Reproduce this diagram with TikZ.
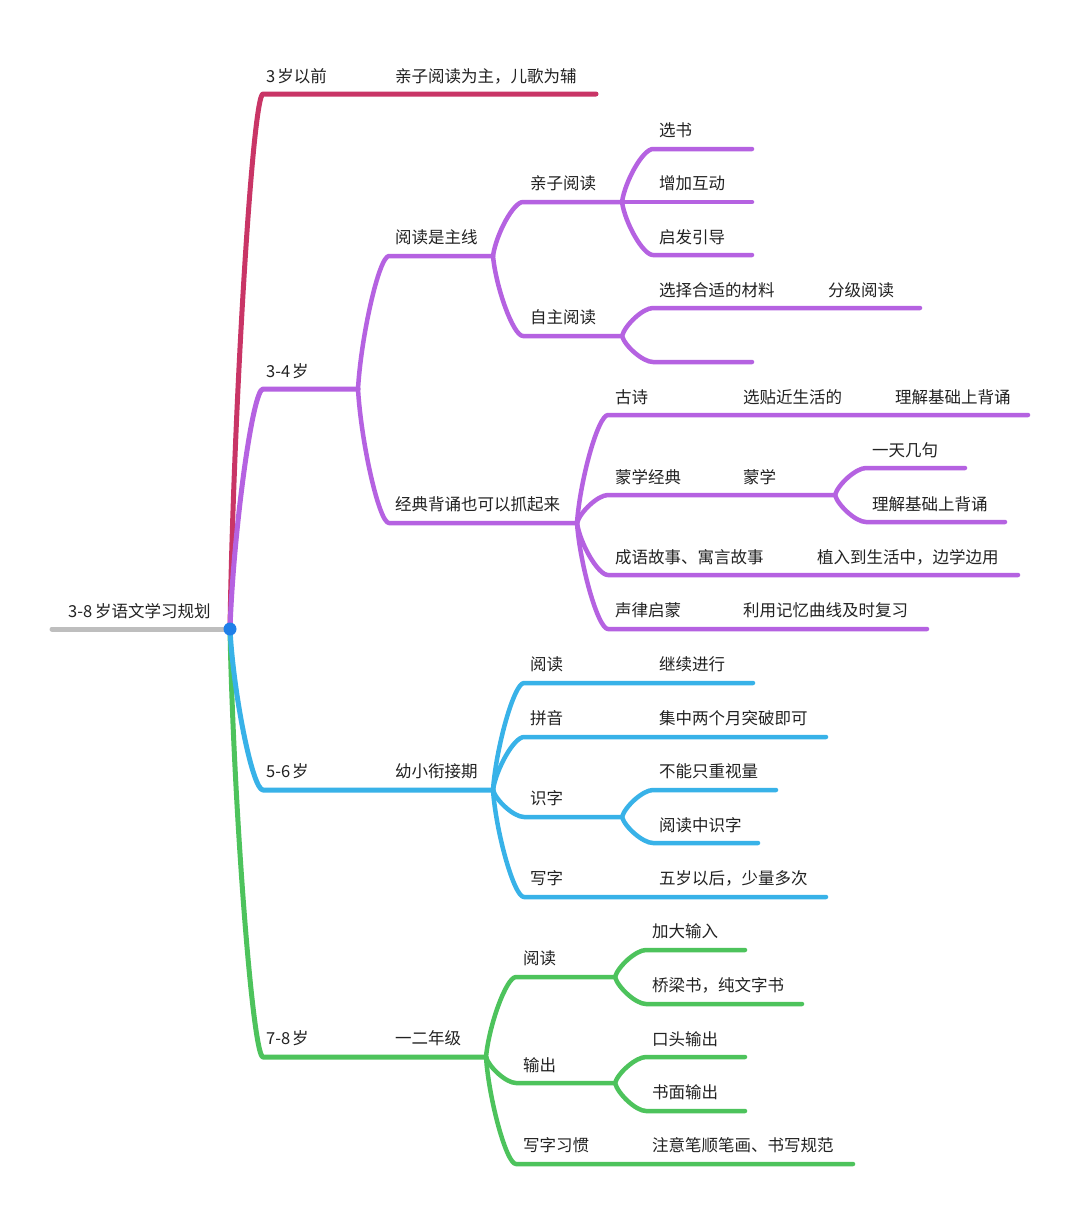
\documentclass[tikz,border=0pt]{standalone}
\usepackage{fontspec}
\setmainfont{Noto Sans CJK SC}
\usetikzlibrary{calc}
\definecolor{cCrim}{HTML}{C93566}
\definecolor{cPur}{HTML}{B562E1}
\definecolor{cBlue}{HTML}{38B2E8}
\definecolor{cGreen}{HTML}{4DC35C}
\definecolor{cGray}{HTML}{BEBEBE}
\definecolor{cDot}{HTML}{1F7FE8}
\definecolor{cText}{HTML}{222222}
\begin{document}
\begin{tikzpicture}[x=1pt,y=-1pt,
  lbl/.style={anchor=base west, inner sep=0pt, font=\fontsize{16.5}{18}\selectfont, text=cText},
  br/.style={line width=4.5pt, line cap=round, line join=round},
  br1/.style={line width=5pt, line cap=round, line join=round},
  curve/.style={to path={let \p1=(\tikztostart),\p2=(\tikztotarget) in
     .. controls ({\x1+0.1*(\x2-\x1)},{\y1+0.4*(\y2-\y1)}) and ({\x1+0.68*(\x2-\x1)},\y2) .. (\p2) \tikztonodes}}]
\useasboundingbox (0,0) rectangle (1079,1216);
\fill[white] (0,0) rectangle (1079,1216);

% ---------- coordinates ----------
\coordinate (rootL) at (52,629);
\coordinate (root) at (230,629);
% A
\coordinate (a0) at (263,94);  \coordinate (aE) at (596,94);
% B
\coordinate (b0) at (263,389); \coordinate (bF) at (358,389);
\coordinate (b10) at (389,256); \coordinate (b1F) at (493,256);
\coordinate (b110) at (523,202); \coordinate (b11F) at (622,202);
\coordinate (b111s) at (653,149); \coordinate (b111e) at (752,149);
\coordinate (b112e) at (752,202);
\coordinate (b113s) at (653,255); \coordinate (b113e) at (752,255);
\coordinate (b120) at (523,336); \coordinate (b12F) at (622,336);
\coordinate (b121s) at (653,308); \coordinate (b121e) at (920,308);
\coordinate (b122s) at (653,362); \coordinate (b122e) at (752,362);
\coordinate (b20) at (389,523); \coordinate (b2F) at (577,523);
\coordinate (b21s) at (608,415); \coordinate (b21e) at (1028,415);
\coordinate (b22s) at (608,495); \coordinate (b22F) at (835,495);
\coordinate (b221s) at (866,468); \coordinate (b221e) at (965,468);
\coordinate (b222s) at (866,522); \coordinate (b222e) at (1005,522);
\coordinate (b23s) at (608,575); \coordinate (b23e) at (1018,575);
\coordinate (b24s) at (608,629); \coordinate (b24e) at (927,629);
% C
\coordinate (c0) at (263,790); \coordinate (cF) at (493,790);
\coordinate (c1s) at (524,683); \coordinate (c1e) at (753,683);
\coordinate (c2s) at (524,737); \coordinate (c2e) at (826,737);
\coordinate (c3s) at (524,817); \coordinate (c3F) at (622,817);
\coordinate (c31s) at (653,790); \coordinate (c31e) at (776,790);
\coordinate (c32s) at (653,843); \coordinate (c32e) at (758,843);
\coordinate (c4s) at (524,897); \coordinate (c4e) at (826,897);
% D
\coordinate (d0) at (263,1057); \coordinate (dF) at (486,1057);
\coordinate (d1s) at (516,977); \coordinate (d1F) at (615,977);
\coordinate (d11s) at (646,950); \coordinate (d11e) at (745,950);
\coordinate (d12s) at (646,1004); \coordinate (d12e) at (802,1004);
\coordinate (d2s) at (516,1083); \coordinate (d2F) at (615,1083);
\coordinate (d21s) at (646,1057); \coordinate (d21e) at (745,1057);
\coordinate (d22s) at (646,1111); \coordinate (d22e) at (745,1111);
\coordinate (d3s) at (516,1164); \coordinate (d3e) at (853,1164);

% ---------- connectors ----------
\draw[br1,cGray] (rootL) -- (root);
% A
\draw[br1,cCrim] (root) to[curve] (a0) -- (aE);
% D
\draw[br1,cGreen] (root) to[curve] (d0) -- (dF);
\draw[br,cGreen] (dF) to[curve] (d1s) -- (d1F);
\draw[br,cGreen] (d1F) to[curve] (d11s) -- (d11e);
\draw[br,cGreen] (d1F) to[curve] (d12s) -- (d12e);
\draw[br,cGreen] (dF) to[curve] (d2s) -- (d2F);
\draw[br,cGreen] (d2F) to[curve] (d21s) -- (d21e);
\draw[br,cGreen] (d2F) to[curve] (d22s) -- (d22e);
\draw[br,cGreen] (dF) to[curve] (d3s) -- (d3e);
% C
\draw[br1,cBlue] (root) to[curve] (c0) -- (cF);
\draw[br,cBlue] (cF) to[curve] (c1s) -- (c1e);
\draw[br,cBlue] (cF) to[curve] (c2s) -- (c2e);
\draw[br,cBlue] (cF) to[curve] (c3s) -- (c3F);
\draw[br,cBlue] (c3F) to[curve] (c31s) -- (c31e);
\draw[br,cBlue] (c3F) to[curve] (c32s) -- (c32e);
\draw[br,cBlue] (cF) to[curve] (c4s) -- (c4e);
% B
\draw[br1,cPur] (root) to[curve] (b0) -- (bF);
\draw[br,cPur] (bF) to[curve] (b10) -- (b1F);
\draw[br,cPur] (b1F) to[curve] (b110) -- (b11F);
\draw[br,cPur] (b11F) to[curve] (b111s) -- (b111e);
\draw[br,cPur] (b11F) -- (b112e);
\draw[br,cPur] (b11F) to[curve] (b113s) -- (b113e);
\draw[br,cPur] (b1F) to[curve] (b120) -- (b12F);
\draw[br,cPur] (b12F) to[curve] (b121s) -- (b121e);
\draw[br,cPur] (b12F) to[curve] (b122s) -- (b122e);
\draw[br,cPur] (bF) to[curve] (b20) -- (b2F);
\draw[br,cPur] (b2F) to[curve] (b21s) -- (b21e);
\draw[br,cPur] (b2F) to[curve] (b22s) -- (b22F);
\draw[br,cPur] (b22F) to[curve] (b221s) -- (b221e);
\draw[br,cPur] (b22F) to[curve] (b222s) -- (b222e);
\draw[br,cPur] (b2F) to[curve] (b23s) -- (b23e);
\draw[br,cPur] (b2F) to[curve] (b24s) -- (b24e);
% root dot
\fill[cDot] (root) circle (6.5pt);

% ---------- labels ----------
\node[lbl] (rootT) at (68,617) {3-8\kern3pt 岁语文学习规划};
\node[lbl] (aT) at (266,82) {3\kern2pt 岁以前};
\node[lbl] (a1T) at (395,82) {亲子阅读为主，儿歌为辅};
\node[lbl] (bT) at (266,377) {3-4\kern2pt 岁};
\node[lbl] (b1T) at (395,243) {阅读是主线};
\node[lbl] (b11T) at (530,189) {亲子阅读};
\node[lbl] (b111T) at (659,136) {选书};
\node[lbl] (b112T) at (659,189) {增加互动};
\node[lbl] (b113T) at (659,243) {启发引导};
\node[lbl] (b12T) at (530,323) {自主阅读};
\node[lbl] (b121T) at (659,296) {选择合适的材料};
\node[lbl] (b1211T) at (828,296) {分级阅读};
\node[lbl] (b2T) at (395,510) {经典背诵也可以抓起来};
\node[lbl] (b21T) at (615,403) {古诗};
\node[lbl] (b211T) at (743,403) {选贴近生活的};
\node[lbl] (b2111T) at (895,403) {理解基础上背诵};
\node[lbl] (b22T) at (615,483) {蒙学经典};
\node[lbl] (b221T) at (743,483) {蒙学};
\node[lbl] (b2211T) at (872,456) {一天几句};
\node[lbl] (b2212T) at (872,510) {理解基础上背诵};
\node[lbl] (b23T) at (615,563) {成语故事、寓言故事};
\node[lbl] (b231T) at (817,563) {植入到生活中，边学边用};
\node[lbl] (b24T) at (615,616) {声律启蒙};
\node[lbl] (b241T) at (743,616) {利用记忆曲线及时复习};
\node[lbl] (cT) at (266,777) {5-6\kern2pt 岁};
\node[lbl] (c0T) at (395,777) {幼小衔接期};
\node[lbl] (c1T) at (530,670) {阅读};
\node[lbl] (c11T) at (659,670) {继续进行};
\node[lbl] (c2T) at (530,724) {拼音};
\node[lbl] (c21T) at (659,724) {集中两个月突破即可};
\node[lbl] (c3T) at (530,804) {识字};
\node[lbl] (c31T) at (659,777) {不能只重视量};
\node[lbl] (c32T) at (659,831) {阅读中识字};
\node[lbl] (c4T) at (530,884) {写字};
\node[lbl] (c41T) at (659,884) {五岁以后，少量多次};
\node[lbl] (dT) at (266,1044) {7-8\kern2pt 岁};
\node[lbl] (d0T) at (395,1044) {一二年级};
\node[lbl] (d1T) at (523,964) {阅读};
\node[lbl] (d11T) at (652,937) {加大输入};
\node[lbl] (d12T) at (652,991) {桥梁书，纯文字书};
\node[lbl] (d2T) at (523,1071) {输出};
\node[lbl] (d21T) at (652,1045) {口头输出};
\node[lbl] (d22T) at (652,1098) {书面输出};
\node[lbl] (d3T) at (523,1151) {写字习惯};
\node[lbl] (d31T) at (652,1151) {注意笔顺笔画、书写规范};
\end{tikzpicture}
\end{document}
